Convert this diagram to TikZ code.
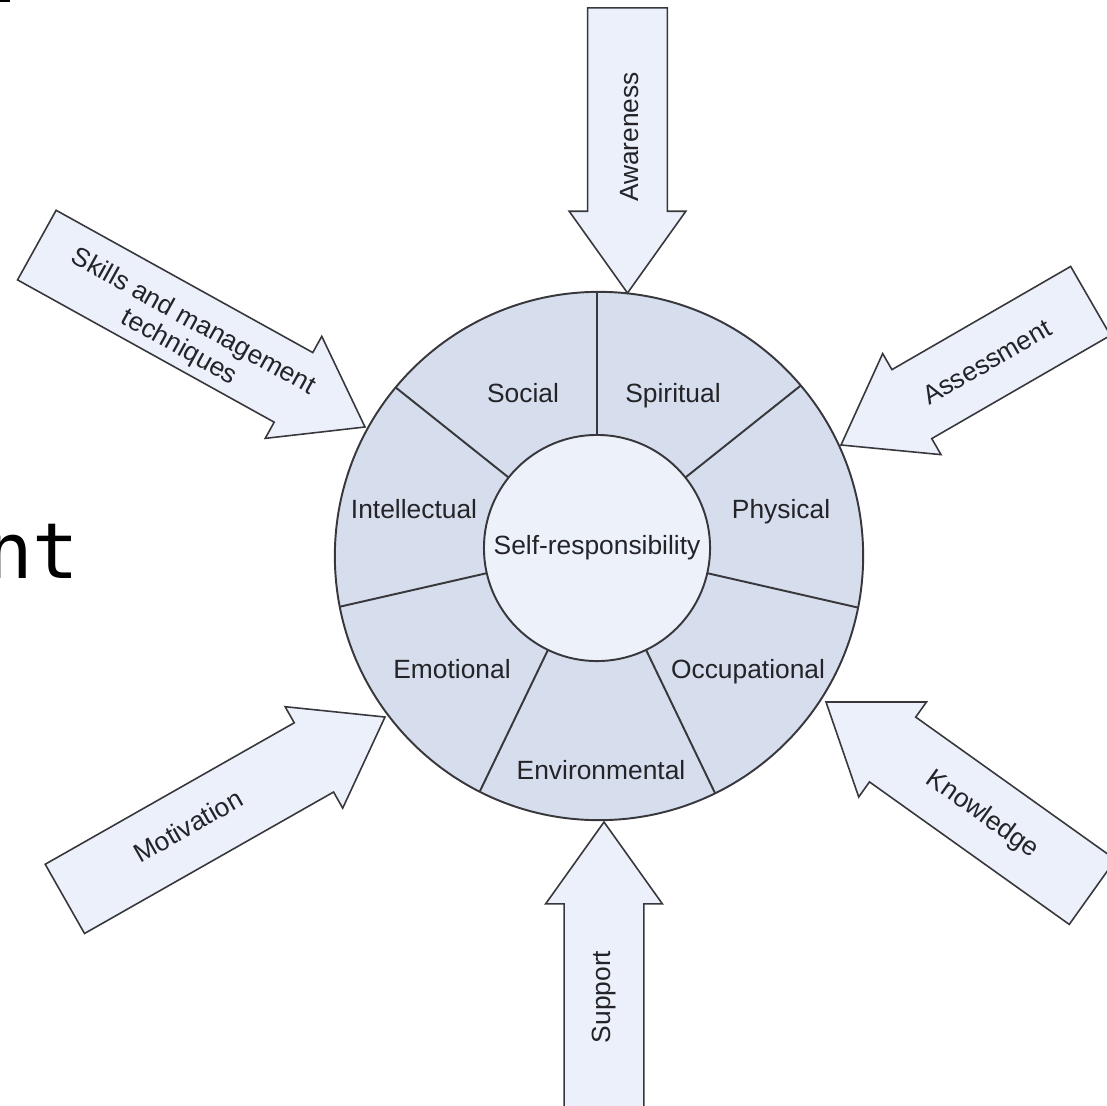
\documentclass[tikz,border=0pt]{standalone}
\usepackage{fontspec}
\setsansfont{Liberation Sans}
\newfontfamily\monofont{DejaVu Sans Mono}
\usepackage{xcolor}
\usepackage{tikz}
\usetikzlibrary{shapes.arrows}

\definecolor{ringfill}{RGB}{214,221,236}
\definecolor{hubfill}{RGB}{237,241,250}
\definecolor{arrowfill}{RGB}{235,240,250}
\definecolor{linegray}{RGB}{55,55,60}
\definecolor{textgray}{RGB}{35,35,40}

\begin{document}
\begin{tikzpicture}[x=0.01cm,y=0.01cm,
	ring line/.style={draw=linegray, line width=0.55pt},
	big arrow/.style={single arrow, draw=linegray, fill=arrowfill, line width=0.45pt, single arrow head extend=0.185cm, single arrow tip angle=71, inner xsep=0pt, inner ysep=0.39cm, outer sep=0pt},
	part node/.style={font=\sffamily\fontsize{7.5}{8.3}\selectfont, text=textgray, inner sep=0pt, anchor=base}]
		
		\useasboundingbox (0,0) rectangle (1107,1105);
		\clip (0,0) rectangle (1107,1105);
		
		% the wheel
		\node[circle, ring line, fill=ringfill, minimum size=5.28cm, inner sep=0pt] (wheel) at (599,549) {};
		\begin{scope}
			\clip (wheel.center) circle (2.64cm);
			\foreach \a in {90,38.57,-12.86,-64.29,-115.71,-167.14,141.43}
				\draw[ring line] (597,557) -- ++(\a:300);
		\end{scope}
		\node[circle, ring line, fill=hubfill, minimum size=2.26cm, inner sep=0pt, font=\sffamily\fontsize{7.5}{8.3}\selectfont, text=textgray] (hub) at (597,557) {Self-responsibility};
		
		\node[part node] (soc) at (523,702.5) {Social};
		\node[part node] (spi) at (673,702.5) {Spiritual};
		\node[part node] (phy) at (781,586.5) {Physical};
		\node[part node] (occ) at (748,426.5) {Occupational};
		\node[part node] (env) at (601,325.5) {Environmental};
		\node[part node] (emo) at (452,426.5) {Emotional};
		\node[part node] (int) at (414,586.5) {Intellectual};
		
		% the arrows
		\node[big arrow, minimum height=2.85cm, rotate=-90, anchor=tip] (aware) at (627.5,812) {};
		\node[big arrow, minimum height=3.75cm, rotate=-29, anchor=tip] (skills) at (365,678) {};
		\node[big arrow, minimum height=2.88cm, rotate=210, anchor=tip] (assess) at (841,660) {};
		\node[big arrow, minimum height=3.68cm, rotate=29.6, anchor=tip] (motiv) at (385,388) {};
		\node[big arrow, minimum height=3.27cm, rotate=144.5, anchor=tip] (know) at (826,403) {};
		\node[big arrow, minimum height=3.40cm, rotate=90, anchor=tip] (supp) at (604,283) {};
		
		\node[part node, anchor=center, rotate=90] (awarelbl) at (630,968) {Awareness};
		\node[part node, anchor=center, rotate=-29, align=center] (skillslbl) at (186,770) {Skills and management\\techniques};
		\node[part node, anchor=center, rotate=30] (assesslbl) at (987,743) {Assessment};
		\node[part node, anchor=center, rotate=29.6] (motivlbl) at (188,279) {Motivation};
		\node[part node, anchor=center, rotate=-35.5] (knowlbl) at (982,290) {Knowledge};
		\node[part node, anchor=center, rotate=90] (supplbl) at (604,108) {Support};
		
		% left-over bits at the edge
		\node[anchor=base east, inner sep=0pt, font=\monofont\fontsize{22}{26}\selectfont] (nt) at (80,527) {nt};
		\fill (0,1102.5) rectangle (10,1105);
		
	\end{tikzpicture}
\end{document}
